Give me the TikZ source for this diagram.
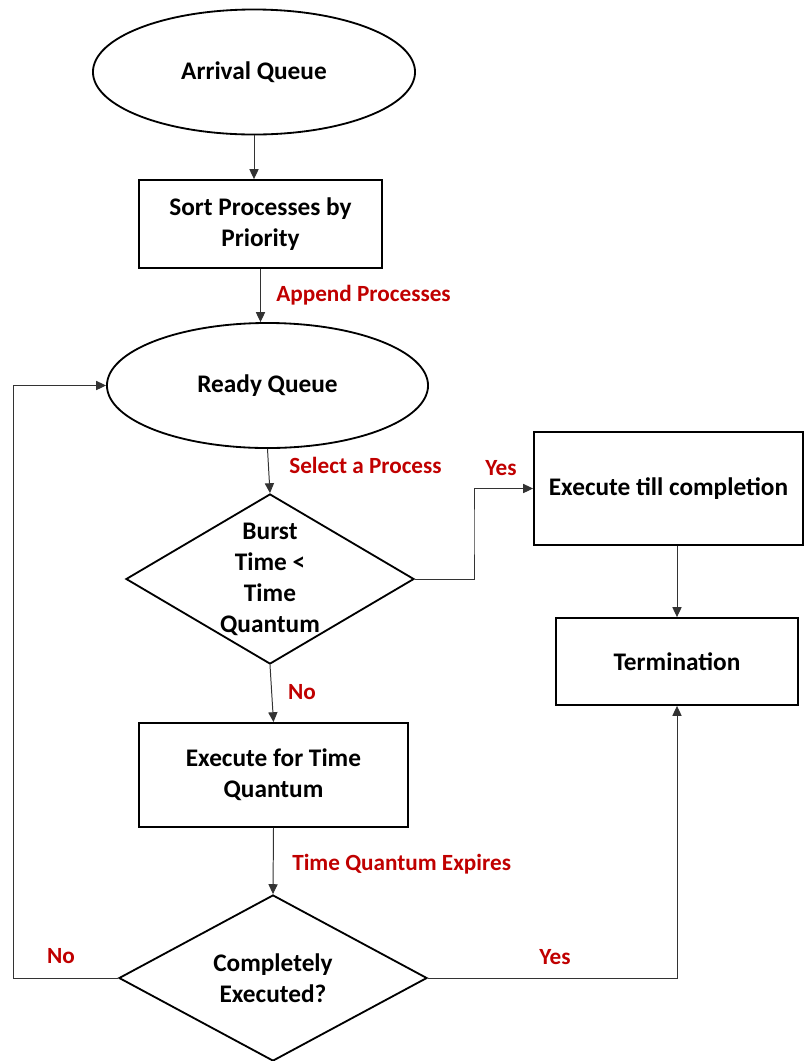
\documentclass[tikz,border=0pt]{standalone}
\usepackage{fontspec}
\setmainfont{Carlito}
\usepackage{tikz}
\usetikzlibrary{shapes.geometric,arrows.meta}
\usepackage{xcolor}
\definecolor{lblred}{RGB}{192,0,0}

\begin{document}
\begin{tikzpicture}[x=0.025cm,y=-0.025cm,
  every node/.style={font=\bfseries\fontsize{18}{22}\selectfont,align=center},
  oval/.style={ellipse,draw,line width=1.3pt},
  box/.style={rectangle,draw,line width=1.3pt},
  decision/.style={diamond,draw,line width=1.3pt},
  lbl/.style={text=lblred,inner sep=0pt,font=\bfseries\fontsize{16.5}{19}\selectfont},
  conn/.style={draw=black!80,line width=0.7pt,-{Triangle[length=7pt,width=6.5pt]}}]
\useasboundingbox (0,0) rectangle (804,1061);

\node[oval,minimum width=8.05cm,minimum height=3.125cm] (aq) at (254,72) {Arrival Queue};
\node[box,minimum width=6.075cm,minimum height=2.2cm] (sort) at (260.5,224) {Sort Processes by\\Priority};
\node[oval,minimum width=8.025cm,minimum height=3.125cm] (rq) at (267.5,385.5) {Ready Queue};
\node[decision,minimum width=7.2cm,minimum height=4.25cm,
  label={center:Burst\\Time <\\Time\\Quantum}] (bt) at (270,579) {};
\node[box,minimum width=6.725cm,minimum height=2.825cm] (etc) at (668.5,488.5) {Execute till completion};
\node[box,minimum width=6.05cm,minimum height=2.175cm] (term) at (677,661.5) {Termination};
\node[box,minimum width=6.725cm,minimum height=2.6cm] (efq) at (273.5,775) {Execute for Time\\Quantum};
\node[decision,minimum width=7.7cm,minimum height=4.15cm,
  label={center:Completely\\Executed?}] (ce) at (273,978) {};

\coordinate (yx) at (474,530);
\coordinate (nx) at (13,978);

\draw[conn] (aq.south) -- (aq.south |- sort.north);
\draw[conn] (sort.south) -- (sort.south |- rq.north);
\draw[conn] (rq.south) -- (bt.north);
\draw[conn] (bt.east) -| (yx) |- (etc.west);
\draw[conn] (bt.south) -- (efq.north);
\draw[conn] (term.north |- etc.south) -- (term.north);
\draw[conn] (efq.south) -- (ce.north);
\draw[conn] (ce.west) -- (nx) |- (rq.west);
\draw[conn] (ce.east) -| (term.south);

\node[lbl,anchor=west] (ap) at (276,295) {Append Processes};
\node[lbl,anchor=west] (sp) at (289,465) {Select a Process};
\node[lbl] (y1) at (501,468) {Yes};
\node[lbl] (n1) at (302,692) {No};
\node[lbl,anchor=west] (tqe) at (292,864) {Time Quantum Expires};
\node[lbl] (n2) at (61,956) {No};
\node[lbl] (y2) at (555,957) {Yes};
\end{tikzpicture}
\end{document}
